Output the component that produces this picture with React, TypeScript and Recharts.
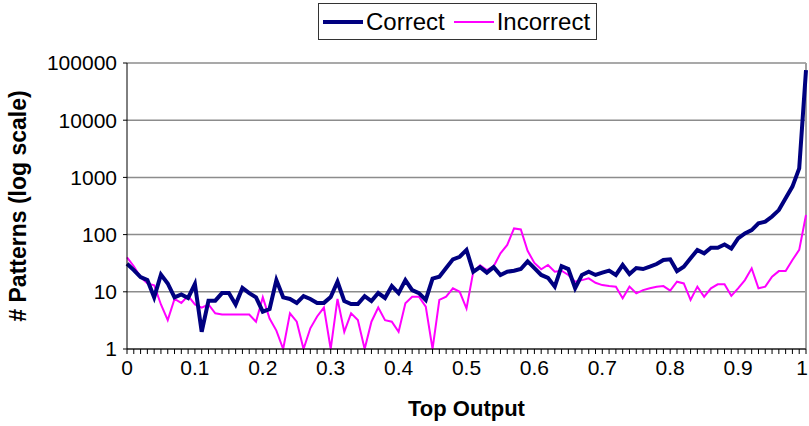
import React from 'react';
import {
  LineChart,
  Line,
  XAxis,
  YAxis,
  CartesianGrid,
  Legend,
  ReferenceLine,
  Label
} from 'recharts';

// top output score, one bin per 0.01
const topOutput = [
  0, 0.01, 0.02, 0.03, 0.04, 0.05, 0.06, 0.07, 0.08, 0.09,
  0.1, 0.11, 0.12, 0.13, 0.14, 0.15, 0.16, 0.17, 0.18, 0.19,
  0.2, 0.21, 0.22, 0.23, 0.24, 0.25, 0.26, 0.27, 0.28, 0.29,
  0.3, 0.31, 0.32, 0.33, 0.34, 0.35, 0.36, 0.37, 0.38, 0.39,
  0.4, 0.41, 0.42, 0.43, 0.44, 0.45, 0.46, 0.47, 0.48, 0.49,
  0.5, 0.51, 0.52, 0.53, 0.54, 0.55, 0.56, 0.57, 0.58, 0.59,
  0.6, 0.61, 0.62, 0.63, 0.64, 0.65, 0.66, 0.67, 0.68, 0.69,
  0.7, 0.71, 0.72, 0.73, 0.74, 0.75, 0.76, 0.77, 0.78, 0.79,
  0.8, 0.81, 0.82, 0.83, 0.84, 0.85, 0.86, 0.87, 0.88, 0.89,
  0.9, 0.91, 0.92, 0.93, 0.94, 0.95, 0.96, 0.97, 0.98, 0.99,
  1
];

const correct = [
  31, 24, 18, 16, 8, 20, 14, 8, 9, 7.8,
  13.7, 2, 7, 7, 9.5, 9.5, 6, 11.7, 9.5, 8,
  4.5, 5, 16, 8, 7.5, 6.4, 8.4, 7.5, 6.4, 6.4,
  8.1, 15, 6.9, 6.1, 6.1, 8.4, 6.9, 9.5, 7.8, 12.6,
  9.5, 16, 10.7, 9.5, 7.2, 17, 18.4, 26, 37, 41,
  54, 22.4, 27, 21.6, 27, 19.7, 22.4, 23.4, 25, 34,
  26, 19.7, 17.5, 12.3, 28, 25, 11.6, 19.7, 22.4, 19.7,
  21.6, 23.4, 19.7, 29.4, 20.5, 26, 25, 27.5, 30.6, 36,
  37, 23, 27.5, 38.5, 54, 47, 59, 59, 67, 57,
  86, 105, 120, 158, 168, 207, 268, 430, 690, 1440,
  75000
];

const incorrect = [
  40, 28, 18, 14, 13, 6, 3.2, 7.5, 6.4, 8.5,
  6, 5.3, 6, 4.2, 4, 4, 4, 4, 4, 3,
  8, 3.4, 2.1, 1, 4.2, 3, 1, 2.3, 3.7, 5.3,
  1, 7.5, 2, 4.2, 3.2, 1, 3, 5.3, 3.2, 3,
  2, 6.3, 8.2, 8.2, 5.5, 1, 7.2, 8.2, 11.5, 10,
  5.1, 22.5, 29, 24, 28, 47, 66, 128, 123, 52,
  32, 24.7, 29.4, 22.4, 23.4, 19.7, 15, 16, 17.2, 14.4,
  13.1, 12.6, 12.3, 7.7, 12.3, 9.4, 10.7, 11.5, 12.3, 12.6,
  10.5, 15, 14, 7.2, 12.3, 8.2, 11.5, 13.5, 13.5, 8.5,
  11.5, 16, 25.7, 11.5, 12.3, 18.4, 23, 23, 36, 54,
  220
];

const xTickLabels = ['0', '0.1', '0.2', '0.3', '0.4', '0.5', '0.6', '0.7', '0.8', '0.9', '1'];
const yTicks = [1, 10, 100, 1000, 10000, 100000];

const data = topOutput.map((x, i) => ({ x, correct: correct[i], incorrect: incorrect[i] }));

const FONT = 'Arial, "Liberation Sans", sans-serif';
const CHART_W = 809;

const XTick = ({ x, y, payload }: any) => {
  const label = String(payload.value);
  if (!xTickLabels.includes(label)) return null;
  // keep the last label inside the picture
  const tx = Math.min(x, CHART_W - 7);
  return (
    <text x={tx} y={y + 4} dy="0.71em" textAnchor="middle" fontSize={21} fontFamily={FONT} fill="#000">
      {label}
    </text>
  );
};

const LegendBox = ({ payload }: any) => (
  <div
    style={{
      display: 'flex',
      alignItems: 'center',
      border: '1px solid #333',
      background: '#fff',
      height: 35,
      padding: '0 6px 0 4px',
      fontFamily: FONT,
      fontSize: 24,
      color: '#000',
      whiteSpace: 'nowrap'
    }}
  >
    {(payload || []).map((p: any, i: number) => (
      <div key={p.value} style={{ display: 'flex', alignItems: 'center', marginLeft: i ? 9 : 0 }}>
        <svg width={40} height={6} style={{ marginRight: 3 }}>
          <line x1={0} y1={3} x2={40} y2={3} stroke={p.color} strokeWidth={p.value === 'Correct' ? 4 : 2} />
        </svg>
        <span>{p.value}</span>
      </div>
    ))}
  </div>
);

export default function App() {
  return (
    <div style={{ position: 'absolute', left: 0, top: 0, background: '#fff' }}>
      <LineChart width={CHART_W} height={426} data={data} margin={{ top: 63, right: 3, bottom: 0, left: 0 }}>
        <CartesianGrid horizontal vertical={false} stroke="#8c8c8c" strokeWidth={1.5} />
        <ReferenceLine x={1} stroke="#a0a0a0" strokeWidth={2} />
        <XAxis
          dataKey="x"
          type="number"
          domain={[0, 1]}
          ticks={topOutput}
          interval={0}
          tick={<XTick />}
          tickSize={5}
          stroke="#000"
          height={77}
        >
          <Label
            value="Top Output"
            position="insideBottom"
            offset={10}
            style={{ fontFamily: FONT, fontSize: 22, fontWeight: 'bold', fill: '#000' }}
          />
        </XAxis>
        <YAxis
          scale="log"
          domain={[1, 100000]}
          ticks={yTicks}
          interval={0}
          allowDataOverflow
          width={127}
          tickSize={4}
          tickMargin={6}
          stroke="#000"
          tick={{ fontFamily: FONT, fontSize: 21, fill: '#000' }}
          label={{
            content: ({ viewBox }: any) => {
              const cx = viewBox.x + 18;
              const cy = viewBox.y + viewBox.height / 2;
              return (
                <text
                  x={cx}
                  y={cy}
                  transform={`rotate(-90 ${cx} ${cy})`}
                  textAnchor="middle"
                  dominantBaseline="central"
                  fontFamily={FONT}
                  fontSize={23}
                  fontWeight="bold"
                  fill="#000"
                >
                  # Patterns (log scale)
                </text>
              );
            }
          }}
        />
        <Legend
          layout="vertical"
          align="center"
          verticalAlign="middle"
          wrapperStyle={{ top: 3, left: 318, width: 'auto' }}
          content={<LegendBox />}
        />
        <Line
          type="linear"
          dataKey="incorrect"
          name="Incorrect"
          stroke="#ff00ff"
          strokeWidth={2}
          dot={false}
          isAnimationActive={false}
        />
        <Line
          type="linear"
          dataKey="correct"
          name="Correct"
          stroke="#000080"
          strokeWidth={4}
          dot={false}
          isAnimationActive={false}
        />
      </LineChart>
    </div>
  );
}
